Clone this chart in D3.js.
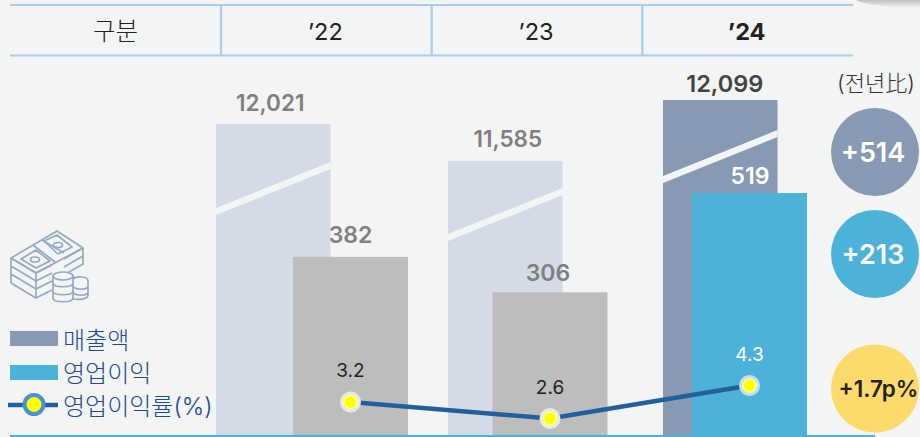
<!DOCTYPE html>
<html lang="ko">
<head>
    <meta charset="UTF-8">
    <title>실적</title>
    <script src="https://cdn.jsdelivr.net/npm/d3@7"></script>
</head>
<style>
    html, body { margin: 0; padding: 0; background: #f3f5f5; overflow: hidden; }
    svg { display: block; }
    text { font-family: Inter, "Noto Sans CJK KR", sans-serif; }
</style>
<body>
    <div class="chartBox"></div>
    <script>
        const years = ["’22", "’23", "’24"];
        const revenue = [12021, 11585, 12099];
        const profit = [382, 306, 519];
        const margin = [3.2, 2.6, 4.3];
        const changes = ["+514", "+213", "+1.7p%"];
        const legendNames = ["매출액", "영업이익", "영업이익률(%)"];

        const width = 920, height = 437;
        const baseY = 435;
        const svg = d3.select(".chartBox").append("svg").attr("width", width).attr("height", height);

        // 스케일 - 매출액은 단절 축이라 구간별로 나눔
        const headerX = d3.scaleBand().domain(years).range([221, 853]);
        const pointX = d3.scalePoint().domain(years).range([350.5, 749.5]);
        const revX = d3.scaleOrdinal().domain(years).range([216, 448, 663]);
        const revY = d3.scaleLinear().domain([11585, 12021, 12099]).range([161, 124, 100]);
        const profitY = d3.scaleLinear().domain([0, 519]).range([baseY, 193]);
        const marginY = d3.scaleLinear().domain([2.6, 3.2, 4.3]).range([418.5, 402, 385.5]);
        const breakGap = d3.scaleOrdinal().domain(years).range([38, 27, 30]);
        // 글자 위치 보정
        const revLabelDx = d3.scaleOrdinal().domain(years).range([-3, 2.5, 4.5]);
        const revLabelDy = d3.scaleOrdinal().domain(years).range([13, 14.5, 8]);
        const profitLabelDx = d3.scaleOrdinal().domain(years).range([0, -2, 0.5]);
        const profitLabelDy = d3.scaleOrdinal().domain(years).range([14, 11.5, 9]);
        const revW = 114.5, profitW = 115;

        const isLast = (i) => i === years.length - 1;

        // 상단 표 머리
        const header = svg.append("g").attr("stroke", "#a8cdef").attr("stroke-width", 2.2);
        [5, 55.5].forEach(y => header.append("line").attr("x1", 10).attr("x2", 853).attr("y1", y).attr("y2", y));
        years.forEach(d => header.append("line").attr("x1", headerX(d)).attr("x2", headerX(d)).attr("y1", 5).attr("y2", 55.5));
        svg.append("text").attr("x", 115.5).attr("y", 39.5).attr("text-anchor", "middle")
            .attr("font-size", 24.5).attr("font-weight", 300).attr("fill", "#222").text("구분");
        svg.selectAll(".yearText").data(years).join("text").attr("class", "yearText")
            .attr("x", d => headerX(d) + headerX.bandwidth() / 2 - 1).attr("y", 39.5)
            .attr("text-anchor", "middle").attr("font-size", 23.5)
            .attr("font-weight", (d, i) => isLast(i) ? 700 : 400).attr("fill", "#222")
            .text(d => d);

        // 오른쪽 위 그림자
        const defs = svg.append("defs");
        const shade = defs.append("linearGradient").attr("id", "shade").attr("x1", 0).attr("x2", 0).attr("y1", 0).attr("y2", 1);
        shade.append("stop").attr("offset", "30%").attr("stop-color", "#8f8f8f");
        shade.append("stop").attr("offset", "100%").attr("stop-color", "#f3f5f5");
        svg.append("ellipse").attr("cx", 925).attr("cy", -3).attr("rx", 72).attr("ry", 11).attr("fill", "url(#shade)");

        // 매출액 막대
        svg.selectAll(".rev").data(revenue).join("rect").attr("class", "rev")
            .attr("x", (d, i) => revX(years[i])).attr("y", d => revY(d))
            .attr("width", revW).attr("height", d => baseY - revY(d))
            .attr("fill", (d, i) => isLast(i) ? "#8899b3" : "#d5dbe6");

        // 단절 표시
        svg.selectAll(".cut").data(revenue).join("path").attr("class", "cut")
            .attr("d", (d, i) => {
                const x0 = revX(years[i]), x1 = x0 + revW;
                const yr = revY(d) + breakGap(years[i]);
                return `M${x0},${yr + 46}L${x1},${yr}L${x1},${yr + 7}L${x0},${yr + 53}Z`;
            })
            .attr("fill", "#f3f5f5");

        // 영업이익 막대
        svg.selectAll(".profit").data(profit).join("rect").attr("class", "profit")
            .attr("x", (d, i) => pointX(years[i]) - profitW / 2).attr("y", d => profitY(d))
            .attr("width", profitW).attr("height", d => baseY - profitY(d))
            .attr("fill", (d, i) => isLast(i) ? "#4cb2d9" : "#bdbdbd");

        // 값 표시
        svg.selectAll(".revLabel").data(revenue).join("text").attr("class", "revLabel")
            .attr("x", (d, i) => revX(years[i]) + revW / 2 + revLabelDx(years[i]))
            .attr("y", (d, i) => revY(d) - revLabelDy(years[i]))
            .attr("text-anchor", "middle").attr("font-weight", 600)
            .attr("font-size", (d, i) => isLast(i) ? 23.5 : 22.5)
            .attr("fill", (d, i) => isLast(i) ? "#444" : "#808080")
            .text(d3.format(","));
        svg.selectAll(".profitLabel").data(profit).join("text").attr("class", "profitLabel")
            .attr("x", (d, i) => pointX(years[i]) + profitLabelDx(years[i]))
            .attr("y", (d, i) => profitY(d) - profitLabelDy(years[i]))
            .attr("text-anchor", "middle").attr("font-size", 23).attr("font-weight", 600)
            .attr("fill", (d, i) => isLast(i) ? "#fff" : "#808080")
            .text(d => d);

        // 영업이익률 선
        const line = d3.line().x((d, i) => pointX(years[i])).y(d => marginY(d));
        svg.append("path").attr("d", line(margin)).attr("fill", "none")
            .attr("stroke", "#22609c").attr("stroke-width", 4.5);
        svg.selectAll(".dotOut").data(margin).join("circle").attr("class", "dotOut")
            .attr("cx", (d, i) => pointX(years[i])).attr("cy", d => marginY(d)).attr("r", 10.5)
            .attr("fill", (d, i) => isLast(i) ? "#bfe3ee" : "#e6e9e9");
        svg.selectAll(".dotMid").data(margin).join("circle").attr("class", "dotMid")
            .attr("cx", (d, i) => pointX(years[i])).attr("cy", d => marginY(d)).attr("r", 7.5)
            .attr("fill", "#ffff80");
        svg.selectAll(".dot").data(margin).join("circle").attr("class", "dot")
            .attr("cx", (d, i) => pointX(years[i])).attr("cy", d => marginY(d)).attr("r", 5.5)
            .attr("fill", "#ffff00");
        svg.selectAll(".marginLabel").data(margin).join("text").attr("class", "marginLabel")
            .attr("x", (d, i) => pointX(years[i])).attr("y", d => marginY(d) - 25)
            .attr("text-anchor", "middle").attr("font-size", 19)
            .attr("fill", (d, i) => isLast(i) ? "#fff" : "#222")
            .text(d => d.toFixed(1));

        // 전년비
        svg.append("text").attr("x", 876).attr("y", 91).attr("text-anchor", "middle")
            .attr("font-size", 22).attr("font-weight", 300).attr("fill", "#333").text("(전년比)");
        const circleY = d3.scaleOrdinal().domain(changes).range([152, 254, 388.5]);
        const circleFill = d3.scaleOrdinal().domain(changes).range(["#8899b3", "#4cb2d9", "#fcda6b"]);
        svg.selectAll(".changeDot").data(changes).join("circle").attr("class", "changeDot")
            .attr("cx", 875).attr("cy", d => circleY(d)).attr("r", 44).attr("fill", d => circleFill(d));
        svg.selectAll(".changeText").data(changes).join("text").attr("class", "changeText")
            .attr("x", d => d.includes("p") ? 878.5 : 873).attr("y", d => circleY(d) + (d.includes("p") ? 8 : 10))
            .attr("text-anchor", "middle").attr("font-weight", 600)
            .attr("font-size", d => d.includes("p") ? 22.5 : 27)
            .attr("fill", d => d.includes("p") ? "#222" : "#fff")
            .text(d => d);

        // 범례
        const legendY = d3.scalePoint().domain(legendNames).range([339, 405]);
        svg.selectAll(".legendText").data(legendNames).join("text").attr("class", "legendText")
            .attr("x", 63).attr("y", d => legendY(d) + 10)
            .attr("font-size", 24).attr("font-weight", 300).attr("fill", "#1f4a8f").text(d => d);
        svg.append("rect").attr("x", 10).attr("y", 331).attr("width", 48).attr("height", 15).attr("fill", "#8899b3");
        svg.append("rect").attr("x", 10).attr("y", 365).attr("width", 48).attr("height", 15).attr("fill", "#4cb2d9");
        svg.append("line").attr("x1", 8).attr("x2", 58).attr("y1", 405).attr("y2", 405)
            .attr("stroke", "#22609c").attr("stroke-width", 4.5);
        svg.append("circle").attr("cx", 34).attr("cy", 404.5).attr("r", 9.5)
            .attr("fill", "#ffff00").attr("stroke", "#4a90d9").attr("stroke-width", 4);

        // 돈 아이콘
        const icon = svg.append("g").attr("fill", "none").attr("stroke", "#97a9c2").attr("stroke-width", 1.7).attr("stroke-linejoin", "round");
        icon.append("path").attr("d", "M11,258L57,231L83,248L36,273Z");
        icon.append("path").attr("d", "M33,245L55,262M42,240L64,253");
        icon.append("path").attr("d", "M21,259L36,250L50,261L36,268Z M44,241L57,235L72,247L58,254Z");
        icon.append("ellipse").attr("cx", 35).attr("cy", 259.5).attr("rx", 4.5).attr("ry", 2.5);
        icon.append("ellipse").attr("cx", 58).attr("cy", 245).attr("rx", 4.5).attr("ry", 2.5);
        [0, 8, 16, 25].forEach(dy => icon.append("path").attr("d", `M11,${258 + dy}L36,${273 + dy}L52,${265 + dy}`));
        icon.append("path").attr("d", "M11,258V283M36,273V298");
        [0, 8, 16].forEach(dy => icon.append("path").attr("d", `M64,${259 + dy}L83,${248 + dy}`));
        icon.append("path").attr("d", "M83,248V265");
        // 동전
        icon.append("ellipse").attr("cx", 63).attr("cy", 276).attr("rx", 10).attr("ry", 4).attr("fill", "#f3f5f5");
        [276, 284, 291].forEach(y => icon.append("path").attr("d", `M53,${y}V${y + 7}C53,${y + 12} 73,${y + 12} 73,${y + 7}V${y}`));
        icon.append("path").attr("d", "M73,279C76,276 88,276 88,281V295C88,299 80,300 73,299M73,287C77,290 85,290 88,287M73,293C77,296 85,296 88,293");

        // 아래쪽 선
        svg.append("line").attr("x1", 10).attr("x2", 875).attr("y1", 436).attr("y2", 436)
            .attr("stroke", "#4cb2d9").attr("stroke-width", 2);
    </script>
</body>
</html>
